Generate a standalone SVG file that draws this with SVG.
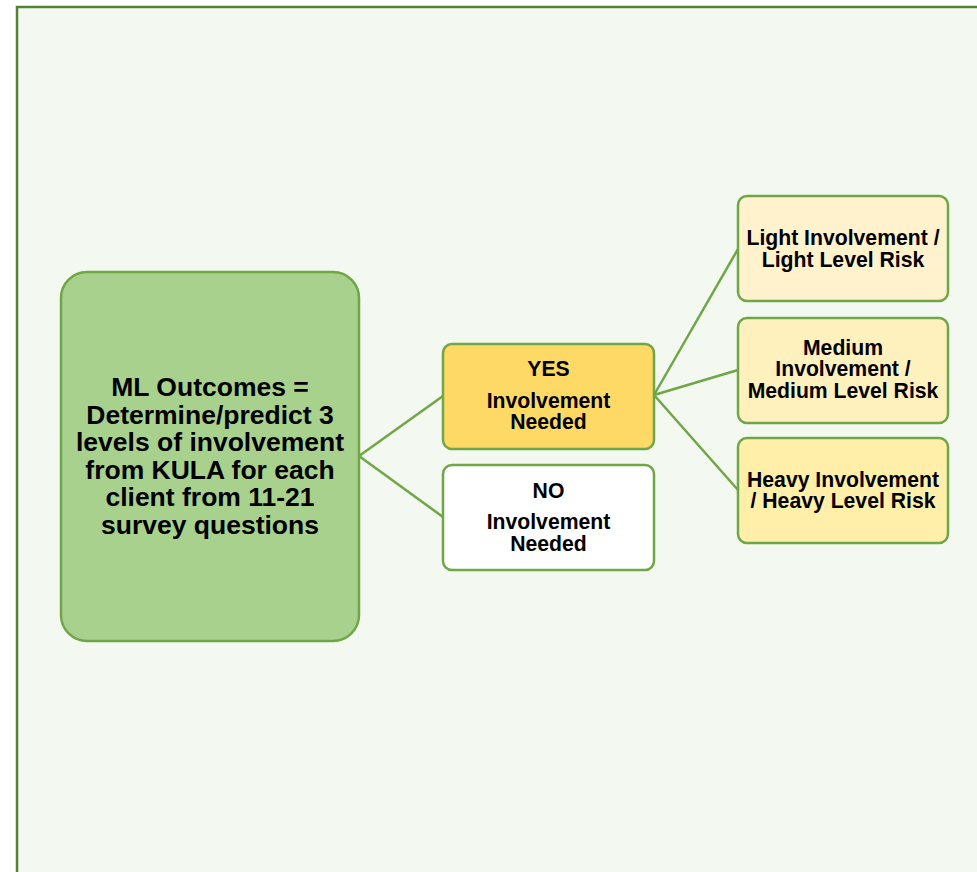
<svg xmlns="http://www.w3.org/2000/svg" width="977" height="872" viewBox="0 0 977 872">
<style>
text{font-family:"Liberation Sans",Arial,sans-serif;font-weight:bold;fill:#000;text-anchor:middle;dominant-baseline:central}
.n{stroke:#6fa646;stroke-width:2.5}
.c{stroke:#6fa646;stroke-width:2.5;fill:none}
.m{font-size:26.5px}
.s{font-size:21.2px}
</style>
<rect x="0" y="0" width="977" height="872" fill="#ffffff"/>
<rect x="17" y="7" width="975" height="880" fill="#f3f8f0" stroke="#548235" stroke-width="2.5"/>
<g id="connectors">
<path class="c" d="M359 456 L443 396"/>
<path class="c" d="M359 456 L443 517"/>
<path class="c" d="M654 395 L738 249"/>
<path class="c" d="M654 395 L738 370"/>
<path class="c" d="M654 395 L738 490"/>
</g>
<g id="main">
<rect class="n" x="61" y="272" width="298" height="369" rx="26" fill="#a9d18e"/>
<text class="m" x="210" y="387">ML Outcomes =</text>
<text class="m" x="210" y="414.5">Determine/predict 3</text>
<text class="m" x="210" y="442">levels of involvement</text>
<text class="m" x="210" y="469.5">from KULA for each</text>
<text class="m" x="210" y="497">client from 11-21</text>
<text class="m" x="210" y="524.5">survey questions</text>
</g>
<g id="yes">
<rect class="n" x="443" y="344" width="211" height="105" rx="9" fill="#ffd966"/>
<text class="s" x="548.5" y="368">YES</text>
<text class="s" x="548.5" y="400">Involvement</text>
<text class="s" x="548.5" y="421">Needed</text>
</g>
<g id="no">
<rect class="n" x="443" y="465" width="211" height="105" rx="9" fill="#ffffff"/>
<text class="s" x="548.5" y="490">NO</text>
<text class="s" x="548.5" y="521">Involvement</text>
<text class="s" x="548.5" y="543">Needed</text>
</g>
<g id="light">
<rect class="n" x="738" y="196" width="210" height="105" rx="9" fill="#fff2cc"/>
<text class="s" x="843" y="237">Light Involvement /</text>
<text class="s" x="843" y="259">Light Level Risk</text>
</g>
<g id="medium">
<rect class="n" x="738" y="318" width="210" height="105" rx="9" fill="#fff1bd"/>
<text class="s" x="843" y="347">Medium</text>
<text class="s" x="843" y="368.5">Involvement /</text>
<text class="s" x="843" y="390">Medium Level Risk</text>
</g>
<g id="heavy">
<rect class="n" x="738" y="438" width="210" height="105" rx="9" fill="#ffefa8"/>
<text class="s" x="843" y="479">Heavy Involvement</text>
<text class="s" x="843" y="500.5">/ Heavy Level Risk</text>
</g>
</svg>
